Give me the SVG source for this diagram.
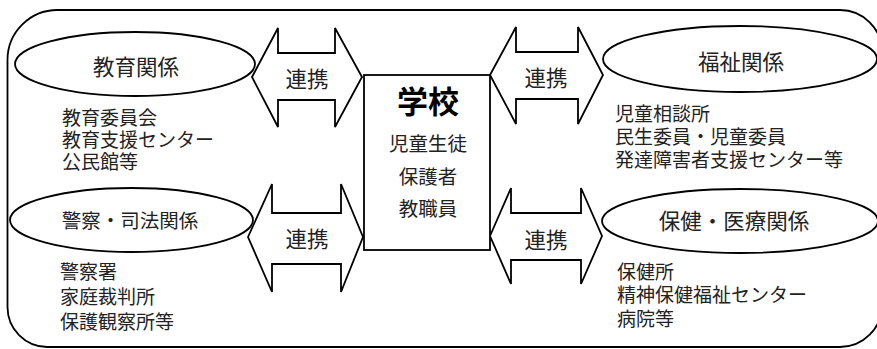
<svg xmlns="http://www.w3.org/2000/svg" width="877" height="349" viewBox="0 0 877 349">
<style>
.sh{fill:#fff;stroke:#000;stroke-width:1.8}
.fr{fill:none;stroke:#000;stroke-width:1.8}
text{font-family:"Liberation Sans","Noto Sans CJK JP",sans-serif;fill:#222}
.lb{font-size:21.5px;text-anchor:middle}
.ls{font-size:19px}
.ct{font-size:19.5px;text-anchor:middle}
</style>
<rect width="877" height="349" fill="#fff"/>
<path class="fr" d="M57.5,10 H840 A42,42 0 0 1 882,52 V305 A42,42 0 0 1 840,347 H47 A40,40 0 0 1 7.5,307 V60 A50,50 0 0 1 57.5,10 Z"/>
<g id="connectors">
<polygon class="sh" points="252,77 278,28 278,53 335,53 335,28 362,77 335,127 335,100 278,100 278,127"/>
<text class="lb" x="307" y="87">連携</text>
<polygon class="sh" points="490,75 516,27 516,52 578,52 578,27 603,75 578,124 578,99 516,99 516,124"/>
<text class="lb" x="546" y="86">連携</text>
<polygon class="sh" points="248,237 272,184 272,213 341,213 341,184 363,237 341,292 341,264 272,264 272,292"/>
<text class="lb" x="307" y="247">連携</text>
<polygon class="sh" points="490,236 511,188 511,213 581,213 581,188 602,236 581,284 581,260 511,260 511,284"/>
<text class="lb" x="546" y="248">連携</text>
</g>
<g id="school">
<rect class="sh" x="364" y="75" width="126" height="175"/>
<text x="428" y="113" style="font-size:31px;font-weight:bold;text-anchor:middle;fill:#000">学校</text>
<text class="ct" x="428" y="151">児童生徒</text>
<text class="ct" x="428" y="184">保護者</text>
<text class="ct" x="428" y="216">教職員</text>
</g>
<g id="education">
<ellipse class="sh" cx="135" cy="64" rx="120" ry="32"/>
<text class="lb" x="136" y="75">教育関係</text>
<text class="ls" x="62" y="125">教育委員会</text>
<text class="ls" x="62" y="147">教育支援センター</text>
<text class="ls" x="62" y="169">公民館等</text>
</g>
<g id="welfare">
<ellipse class="sh" cx="740" cy="59" rx="137" ry="33"/>
<text class="lb" x="741" y="70">福祉関係</text>
<text class="ls" x="615" y="121">児童相談所</text>
<text class="ls" x="615" y="144">民生委員・児童委員</text>
<text class="ls" x="615" y="167">発達障害者支援センター等</text>
</g>
<g id="police">
<ellipse class="sh" cx="131.5" cy="220" rx="121.5" ry="32"/>
<text x="130" y="228" style="font-size:19.5px;text-anchor:middle">警察・司法関係</text>
<text class="ls" x="60" y="279">警察署</text>
<text class="ls" x="60" y="304">家庭裁判所</text>
<text class="ls" x="60" y="329">保護観察所等</text>
</g>
<g id="health">
<ellipse class="sh" cx="740" cy="221" rx="138" ry="32"/>
<text class="lb" x="734" y="229">保健・医療関係</text>
<text class="ls" x="617" y="279">保健所</text>
<text class="ls" x="617" y="302">精神保健福祉センター</text>
<text class="ls" x="617" y="326">病院等</text>
</g>
</svg>
